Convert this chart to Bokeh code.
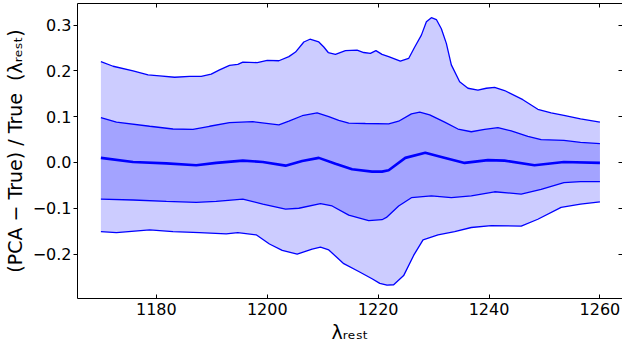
from bokeh.plotting import figure
from bokeh.models import Range1d, FixedTicker, LinearAxis
from bokeh.embed import file_html
from bokeh.resources import INLINE

# ---- data ----
lam_uo = [1170, 1172.2, 1175.8, 1178.5, 1180.6, 1183.3, 1186, 1188.1, 1189.9, 1191.4,
          1193.2, 1194.7, 1195.6, 1198.2, 1200, 1202.1, 1203.9, 1205.1, 1206.6, 1207.7,
          1209.3, 1210.2, 1211, 1212.3, 1214.1, 1216.2, 1217.4, 1218.6, 1219.6, 1220.7,
          1221.9, 1224, 1225.5, 1226.6, 1227.8, 1228.7, 1229.6, 1230.5, 1231.4, 1232.3,
          1233.2, 1234.7, 1236.2, 1238, 1239.5, 1241, 1242.8, 1246.1, 1248.8, 1251.2,
          1253.5, 1256.5, 1260]
val_uo = [0.220, 0.210, 0.200, 0.191, 0.189, 0.186, 0.188, 0.188, 0.193, 0.202,
          0.212, 0.214, 0.219, 0.218, 0.223, 0.222, 0.231, 0.241, 0.263, 0.269,
          0.263, 0.252, 0.240, 0.236, 0.244, 0.245, 0.240, 0.238, 0.244, 0.236,
          0.231, 0.221, 0.227, 0.252, 0.278, 0.307, 0.316, 0.312, 0.292, 0.260,
          0.213, 0.176, 0.162, 0.158, 0.162, 0.164, 0.157, 0.137, 0.116, 0.108,
          0.103, 0.095, 0.088]

lam_ui = [1170, 1172.8, 1178.8, 1183, 1186.6, 1189.6, 1193.2, 1197.4, 1202.1, 1203.9,
          1206.3, 1209, 1211.1, 1212.9, 1214.7, 1217.7, 1221.9, 1223.7, 1226, 1227.5,
          1229.3, 1232, 1234.4, 1236.8, 1239.2, 1241.6, 1244, 1247, 1249.4, 1253.5,
          1256.5, 1260]
val_ui = [0.098, 0.088, 0.079, 0.073, 0.072, 0.079, 0.087, 0.089, 0.082, 0.090,
          0.102, 0.108, 0.100, 0.092, 0.086, 0.085, 0.084, 0.090, 0.106, 0.110,
          0.104, 0.088, 0.073, 0.067, 0.072, 0.076, 0.069, 0.057, 0.050, 0.048,
          0.044, 0.041]

lam_md = [1170, 1175.8, 1181.8, 1187.2, 1190.8, 1195.6, 1199.2, 1203.3, 1206.3, 1209.3,
          1212.3, 1215.3, 1218.9, 1220.7, 1221.9, 1224.9, 1228.5, 1231.4, 1235.6, 1239.8,
          1242.8, 1248.2, 1253.5, 1260]
val_md = [0.010, 0.001, -0.002, -0.006, -0.001, 0.004, 0.001, -0.007, 0.003, 0.010,
          -0.003, -0.015, -0.020, -0.020, -0.017, 0.010, 0.021, 0.012, -0.001, 0.005,
          0.004, -0.006, 0.001, -0.001]

lam_li = [1170, 1175.8, 1181.8, 1187.2, 1190.8, 1195.6, 1199.2, 1203.3, 1205.7, 1209.6,
          1211.7, 1214.7, 1218.3, 1220.7, 1221.5, 1223.7, 1226, 1229.6, 1233.2, 1236.8,
          1241, 1245.8, 1249.4, 1253.5, 1256.5, 1260]
val_li = [-0.080, -0.082, -0.085, -0.087, -0.085, -0.080, -0.091, -0.102, -0.100, -0.090,
          -0.095, -0.115, -0.127, -0.125, -0.120, -0.095, -0.077, -0.073, -0.077, -0.073,
          -0.064, -0.069, -0.059, -0.044, -0.042, -0.042]

lam_lo = [1170, 1172.8, 1178.8, 1183, 1187.8, 1192.6, 1194.7, 1198, 1200.4, 1202.7,
          1205.4, 1208.1, 1209.6, 1211.1, 1213.8, 1216.5, 1218.9, 1220.3, 1221.6, 1222.8,
          1224.6, 1226.4, 1228.1, 1230.8, 1233.8, 1236.8, 1240.4, 1245.8, 1248.8, 1253,
          1256.5, 1260]
val_lo = [-0.151, -0.153, -0.147, -0.151, -0.153, -0.156, -0.153, -0.158, -0.178, -0.192,
          -0.200, -0.189, -0.185, -0.191, -0.221, -0.238, -0.254, -0.264, -0.268, -0.267,
          -0.247, -0.203, -0.169, -0.158, -0.151, -0.142, -0.138, -0.139, -0.124, -0.098,
          -0.091, -0.086]

x_ticks = [1180, 1200, 1220, 1240, 1260]
y_ticks = [-0.2, -0.1, 0.0, 0.1, 0.2, 0.3]
y_tick_labels = ["\u22120.2", "\u22120.1", "0.0", "0.1", "0.2", "0.3"]
x_title = "\u03bb\u1d63\u2091\u209b\u209c"
y_title = "(PCA \u2212 True) / True\u00a0\u00a0(\u03bb\u1d63\u2091\u209b\u209c)"

FONT = "DejaVu Sans"
TICK_FS = "16px"
LAB_FS = "19px"

p = figure(width=622, height=345, output_backend="svg", toolbar_location=None,
           x_range=Range1d(1165.78, 1264.07), y_range=Range1d(-0.297, 0.347),
           min_border_left=74, min_border_right=0, min_border_top=3, min_border_bottom=45)
p.grid.visible = False
p.outline_line_color = None

# bands
p.patch(lam_uo + lam_lo[::-1], val_uo + val_lo[::-1],
        fill_color="blue", fill_alpha=0.2, line_color=None)
p.patch(lam_ui + lam_li[::-1], val_ui + val_li[::-1],
        fill_color="blue", fill_alpha=0.2, line_color=None)

# lines
for lx, ly in [(lam_uo, val_uo), (lam_ui, val_ui), (lam_li, val_li), (lam_lo, val_lo)]:
    p.line(lx, ly, line_color="blue", line_width=1.3)
p.line(lam_md, val_md, line_color="blue", line_width=2.6)

# axes
def style(ax, show_labels, tin, tout):
    ax.axis_line_color = "black"
    ax.axis_line_width = 1
    ax.major_tick_line_color = "black"
    ax.major_tick_line_width = 1
    ax.major_tick_in = tin
    ax.major_tick_out = tout
    ax.minor_tick_line_color = None
    ax.major_label_text_font = FONT
    ax.major_label_text_color = "black"
    ax.axis_label_text_font = FONT
    ax.axis_label_text_font_style = "normal"
    ax.axis_label_text_font_size = LAB_FS
    ax.axis_label_text_color = "black"
    if show_labels:
        ax.major_label_text_font_size = TICK_FS
    else:
        ax.major_label_text_font_size = "0px"
        ax.major_label_standoff = 0

xa = p.xaxis[0]
xa.ticker = FixedTicker(ticks=x_ticks)
style(xa, True, 4, 0)
xa.major_label_standoff = 4
xa.axis_label = x_title
xa.axis_label_standoff = 3

ya = p.yaxis[0]
ya.ticker = FixedTicker(ticks=y_ticks)
ya.major_label_overrides = dict(zip(y_ticks, y_tick_labels))
style(ya, True, 0, 4)
ya.major_label_standoff = 2
ya.axis_label = y_title
ya.axis_label_standoff = 4

top = LinearAxis(ticker=FixedTicker(ticks=x_ticks))
style(top, False, 4, 0)
top.major_label_overrides = {t: "" for t in x_ticks}
p.add_layout(top, "above")

right = LinearAxis(ticker=FixedTicker(ticks=y_ticks))
style(right, False, 4, 0)
right.axis_line_color = None
right.major_label_overrides = {t: "" for t in y_ticks}
p.add_layout(right, "right")

open("out.html", "w").write(file_html(p, INLINE))
